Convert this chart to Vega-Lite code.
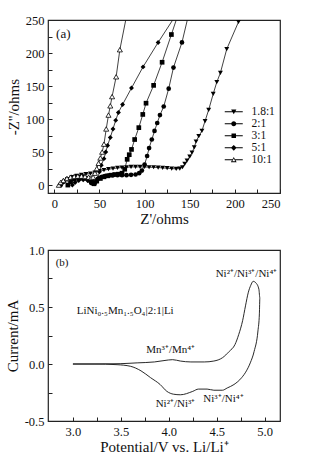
{
  "$schema": "https://vega.github.io/schema/vega-lite/v6.json",
  "background": "white",
  "padding": {"left": 4, "top": 13, "right": 24, "bottom": 4},
  "spacing": 15,
  "config": {
    "font": "Liberation Serif",
    "view": {"stroke": "#222", "strokeWidth": 1.2},
    "axis": {
      "domain": false, "grid": false, "tickColor": "#222", "tickSize": -4, "tickWidth": 1,
      "labelFontSize": 12.5, "labelColor": "#111", "labelPadding": 8,
      "titleFontSize": 15, "titleFontWeight": "normal", "titleColor": "#111"
    },
    "legend": {"labelFont": "Liberation Serif"}
  },
  "datasets": {
    "eis": [
      {"s":"1.8:1","x":8,"y":0},{"s":"1.8:1","x":11,"y":5},{"s":"1.8:1","x":15,"y":9},{"s":"1.8:1","x":20,"y":12},{"s":"1.8:1","x":25,"y":14},{"s":"1.8:1","x":30,"y":15.5},{"s":"1.8:1","x":35,"y":16.5},{"s":"1.8:1","x":40,"y":17.5},{"s":"1.8:1","x":45,"y":19},{"s":"1.8:1","x":50,"y":21},{"s":"1.8:1","x":55,"y":22.5},{"s":"1.8:1","x":60,"y":24},{"s":"1.8:1","x":65,"y":25},{"s":"1.8:1","x":70,"y":26},{"s":"1.8:1","x":75,"y":26.5},{"s":"1.8:1","x":80,"y":27},{"s":"1.8:1","x":85,"y":27.5},{"s":"1.8:1","x":90,"y":27.5},{"s":"1.8:1","x":95,"y":27.5},{"s":"1.8:1","x":100,"y":27.5},{"s":"1.8:1","x":105,"y":27},{"s":"1.8:1","x":110,"y":27},{"s":"1.8:1","x":115,"y":26.5},{"s":"1.8:1","x":120,"y":26},{"s":"1.8:1","x":125,"y":25.5},{"s":"1.8:1","x":130,"y":25},{"s":"1.8:1","x":135,"y":24.5},{"s":"1.8:1","x":139,"y":25},{"s":"1.8:1","x":142,"y":27},{"s":"1.8:1","x":144.5,"y":32},{"s":"1.8:1","x":147,"y":37},{"s":"1.8:1","x":150,"y":43},{"s":"1.8:1","x":152.5,"y":49},{"s":"1.8:1","x":155,"y":57},{"s":"1.8:1","x":157,"y":66},{"s":"1.8:1","x":160,"y":74},{"s":"1.8:1","x":163.5,"y":82},{"s":"1.8:1","x":167,"y":97},{"s":"1.8:1","x":171,"y":114},{"s":"1.8:1","x":176,"y":138},{"s":"1.8:1","x":180,"y":156},{"s":"1.8:1","x":184,"y":170},{"s":"1.8:1","x":191,"y":206},{"s":"1.8:1","x":204,"y":247},{"s":"1.8:1","x":206,"y":256},
      {"s":"2:1","x":7,"y":0},{"s":"2:1","x":10,"y":5},{"s":"2:1","x":14,"y":9},{"s":"2:1","x":19,"y":12},{"s":"2:1","x":24,"y":13},{"s":"2:1","x":29,"y":13},{"s":"2:1","x":34,"y":11},{"s":"2:1","x":38,"y":7},{"s":"2:1","x":41,"y":3},{"s":"2:1","x":44,"y":4},{"s":"2:1","x":48,"y":9},{"s":"2:1","x":52,"y":12},{"s":"2:1","x":56,"y":13.5},{"s":"2:1","x":60,"y":14.5},{"s":"2:1","x":65,"y":15},{"s":"2:1","x":70,"y":15},{"s":"2:1","x":75,"y":15},{"s":"2:1","x":80,"y":15},{"s":"2:1","x":85,"y":15.5},{"s":"2:1","x":90,"y":16},{"s":"2:1","x":94,"y":18},{"s":"2:1","x":97,"y":22},{"s":"2:1","x":100,"y":31},{"s":"2:1","x":102.8,"y":44},{"s":"2:1","x":105,"y":56},{"s":"2:1","x":108,"y":69},{"s":"2:1","x":111,"y":82},{"s":"2:1","x":114,"y":94},{"s":"2:1","x":117,"y":106},{"s":"2:1","x":121.2,"y":119},{"s":"2:1","x":126.7,"y":146},{"s":"2:1","x":132,"y":178},{"s":"2:1","x":141.4,"y":216},{"s":"2:1","x":148,"y":254},
      {"s":"3:1","x":15,"y":0},{"s":"3:1","x":18,"y":5},{"s":"3:1","x":22,"y":9},{"s":"3:1","x":27,"y":11},{"s":"3:1","x":32,"y":12},{"s":"3:1","x":37,"y":10},{"s":"3:1","x":41,"y":5},{"s":"3:1","x":44,"y":2},{"s":"3:1","x":47,"y":6},{"s":"3:1","x":51,"y":10},{"s":"3:1","x":55,"y":12.5},{"s":"3:1","x":59,"y":14},{"s":"3:1","x":63,"y":15},{"s":"3:1","x":67,"y":16},{"s":"3:1","x":71,"y":16.5},{"s":"3:1","x":75,"y":18},{"s":"3:1","x":78,"y":24},{"s":"3:1","x":80.7,"y":39},{"s":"3:1","x":83,"y":46},{"s":"3:1","x":85.5,"y":54},{"s":"3:1","x":89,"y":69},{"s":"3:1","x":93.6,"y":87},{"s":"3:1","x":98,"y":107},{"s":"3:1","x":101.6,"y":124},{"s":"3:1","x":110,"y":151},{"s":"3:1","x":119.4,"y":186},{"s":"3:1","x":129.7,"y":228},{"s":"3:1","x":136.5,"y":256},
      {"s":"5:1","x":20,"y":0},{"s":"5:1","x":23,"y":4},{"s":"5:1","x":27,"y":7},{"s":"5:1","x":32,"y":8},{"s":"5:1","x":37,"y":7},{"s":"5:1","x":41,"y":4},{"s":"5:1","x":45,"y":2},{"s":"5:1","x":48,"y":10},{"s":"5:1","x":50,"y":20},{"s":"5:1","x":52,"y":30},{"s":"5:1","x":55,"y":40},{"s":"5:1","x":57,"y":50},{"s":"5:1","x":59,"y":60},{"s":"5:1","x":62,"y":72},{"s":"5:1","x":65,"y":85},{"s":"5:1","x":68,"y":98},{"s":"5:1","x":71,"y":110},{"s":"5:1","x":75.6,"y":122},{"s":"5:1","x":85.5,"y":147},{"s":"5:1","x":98.3,"y":179},{"s":"5:1","x":115,"y":216},{"s":"5:1","x":133,"y":254},
      {"s":"10:1","x":5,"y":0},{"s":"10:1","x":7,"y":4},{"s":"10:1","x":10,"y":7},{"s":"10:1","x":14,"y":10},{"s":"10:1","x":18,"y":12},{"s":"10:1","x":22,"y":13},{"s":"10:1","x":26,"y":13.5},{"s":"10:1","x":30,"y":13.5},{"s":"10:1","x":34,"y":13},{"s":"10:1","x":38,"y":12},{"s":"10:1","x":41,"y":11},{"s":"10:1","x":43,"y":12},{"s":"10:1","x":45,"y":18},{"s":"10:1","x":47,"y":25},{"s":"10:1","x":49,"y":33},{"s":"10:1","x":51,"y":41},{"s":"10:1","x":53,"y":50},{"s":"10:1","x":55,"y":62},{"s":"10:1","x":57.5,"y":85},{"s":"10:1","x":60,"y":106},{"s":"10:1","x":62,"y":120},{"s":"10:1","x":64,"y":134},{"s":"10:1","x":68.5,"y":164},{"s":"10:1","x":72.6,"y":205},{"s":"10:1","x":80,"y":256}
    ],
    "cv": [
      {"v":3.0,"i":0},{"v":3.22,"i":0},{"v":3.5,"i":0.003},{"v":3.67,"i":0.01},{"v":3.85,"i":0.018},{"v":3.95,"i":0.03},{"v":4.04,"i":0.038},{"v":4.12,"i":0.026},{"v":4.23,"i":0.018},{"v":4.37,"i":0.018},{"v":4.47,"i":0.026},{"v":4.56,"i":0.055},{"v":4.63,"i":0.11},{"v":4.69,"i":0.17},{"v":4.73,"i":0.26},{"v":4.77,"i":0.38},{"v":4.8,"i":0.51},{"v":4.83,"i":0.63},{"v":4.855,"i":0.69},{"v":4.88,"i":0.725},{"v":4.91,"i":0.71},{"v":4.94,"i":0.655},{"v":4.95,"i":0.58},{"v":4.945,"i":0.44},{"v":4.93,"i":0.29},{"v":4.89,"i":0.11},{"v":4.85,"i":0.01},{"v":4.81,"i":-0.06},{"v":4.76,"i":-0.12},{"v":4.68,"i":-0.18},{"v":4.61,"i":-0.21},{"v":4.56,"i":-0.23},{"v":4.47,"i":-0.23},{"v":4.4,"i":-0.22},{"v":4.31,"i":-0.22},{"v":4.25,"i":-0.24},{"v":4.12,"i":-0.27},{"v":4.05,"i":-0.265},{"v":3.98,"i":-0.24},{"v":3.91,"i":-0.18},{"v":3.81,"i":-0.12},{"v":3.71,"i":-0.06},{"v":3.6,"i":-0.02},{"v":3.46,"i":-0.006},{"v":3.22,"i":0},{"v":3.0,"i":0}
    ]
  },
  "vconcat": [
    {
      "width": 232, "height": 173,
      "data": {"name": "eis"},
      "encoding": {
        "x": {"field": "x", "type": "quantitative", "scale": {"domain": [-7, 250], "nice": false, "zero": false},
              "axis": {"title": "Z'/ohms", "values": [0,25,50,75,100,125,150,175,200,225,250], "labelExpr": "datum.value % 50 == 0 ? datum.label : ''", "titlePadding": 2}},
        "y": {"field": "y", "type": "quantitative", "scale": {"domain": [-12, 250], "nice": false, "zero": false},
              "axis": {"title": "-Z''/ohms", "values": [0,25,50,75,100,125,150,175,200,225,250], "labelExpr": "datum.value % 50 == 0 ? datum.label : ''", "titlePadding": 4}}
      },
      "layer": [
        {"mark": {"type": "line", "color": "#111", "strokeWidth": 0.8, "clip": true},
         "encoding": {"detail": {"field": "s"}, "order": {"value": null}}},
        {"transform": [{"filter": "datum.s == '1.8:1'"}], "mark": {"type": "point", "shape": "triangle-down", "filled": true, "color": "#000", "size": 24, "opacity": 1, "clip": true}},
        {"transform": [{"filter": "datum.s == '2:1'"}], "mark": {"type": "point", "shape": "circle", "filled": true, "color": "#000", "size": 22, "opacity": 1, "clip": true}},
        {"transform": [{"filter": "datum.s == '3:1'"}], "mark": {"type": "point", "shape": "square", "filled": true, "color": "#000", "size": 22, "opacity": 1, "clip": true}},
        {"transform": [{"filter": "datum.s == '5:1'"}], "mark": {"type": "point", "shape": "diamond", "filled": true, "color": "#000", "size": 24, "opacity": 1, "clip": true}},
        {"transform": [{"filter": "datum.s == '10:1'"}], "mark": {"type": "point", "shape": "triangle-up", "filled": false, "color": "#000", "fill": "white", "strokeWidth": 0.8, "size": 26, "opacity": 1, "clip": true}},
        {"transform": [{"filter": "datum.y > 1000"}],
         "mark": {"type": "point", "filled": true, "color": "#000", "opacity": 1},
         "encoding": {
           "shape": {"field": "s", "type": "nominal",
             "scale": {"domain": ["1.8:1","2:1","3:1","5:1","10:1"],
                       "range": ["M-3.6,-0.16H3.6V0.16H-3.6ZM-1.05,-0.9L1.05,-0.9L0,1Z",
                                 "M-3.6,-0.16H3.6V0.16H-3.6ZM-1,0A1,1,0,1,1,1,0A1,1,0,1,1,-1,0Z",
                                 "M-3.6,-0.16H3.6V0.16H-3.6ZM-0.9,-0.9H0.9V0.9H-0.9Z",
                                 "M-3.6,-0.16H3.6V0.16H-3.6ZM0,-1.15L1.15,0L0,1.15L-1.15,0Z",
                                 "M-3.6,-0.16H-0.45V0.16H-3.6ZM0.45,-0.16H3.6V0.16H0.45ZM0,-1.15L1.15,0.95L-1.15,0.95ZM0,-0.5L-0.6,0.6L0.6,0.6Z"]},
             "legend": {"orient": "none", "legendX": 180, "legendY": 86, "title": null, "padding": 0,
                        "symbolSize": 25, "labelFontSize": 11.5, "labelOffset": 12, "rowPadding": -1.5, "labelColor": "#111",
                        "symbolFillColor": "#000", "symbolStrokeColor": "transparent", "symbolStrokeWidth": 0, "symbolOpacity": 1}}
         }},
        {"data": {"values": [{"x": 2, "y": 229, "t": "(a)"}]},
         "mark": {"type": "text", "align": "left", "baseline": "middle", "fontSize": 13, "color": "#111"},
         "encoding": {"text": {"field": "t"}}}
      ]
    },
    {
      "width": 232, "height": 171,
      "encoding": {
        "x": {"field": "v", "type": "quantitative", "scale": {"domain": [2.74, 5.16], "nice": false, "zero": false},
              "axis": {"title": "Potential/V vs. Li/Li⁺", "values": [3.0,3.25,3.5,3.75,4.0,4.25,4.5,4.75,5.0], "labelExpr": "abs(datum.value*2 - round(datum.value*2)) < 0.001 ? format(datum.value, '.1f') : ''", "titlePadding": 2}},
        "y": {"field": "i", "type": "quantitative", "scale": {"domain": [-0.5, 1.0], "nice": false, "zero": false},
              "axis": {"title": "Current/mA", "values": [-0.5,-0.25,0,0.25,0.5,0.75,1.0], "labelExpr": "abs(datum.value*2 - round(datum.value*2)) < 0.001 ? replace(format(datum.value, '.1f'), '−', '-') : ''", "titlePadding": 4}}
      },
      "layer": [
        {"data": {"name": "cv"},
         "mark": {"type": "line", "color": "#111", "strokeWidth": 0.9, "interpolate": "monotone"},
         "encoding": {"order": {"value": null}}},
        {"data": {"values": [
           {"v": 4.81, "i": 0.79, "t": "Ni²⁺/Ni³⁺/Ni⁴⁺"},
           {"v": 4.02, "i": 0.12, "t": "Mn³⁺/Mn⁴⁺"},
           {"v": 4.07, "i": -0.35, "t": "Ni²⁺/Ni³⁺"},
           {"v": 4.57, "i": -0.31, "t": "Ni³⁺/Ni⁴⁺"}
         ]},
         "mark": {"type": "text", "align": "center", "baseline": "middle", "fontSize": 11, "color": "#111"},
         "encoding": {"text": {"field": "t"}}},
        {"data": {"values": [
           {"v": 3.04, "i": 0.465, "t": "LiNi₀.₅Mn₁.₅O₄|2:1|Li"},
           {"v": 2.82, "i": 0.89, "t": "(b)"}
         ]},
         "mark": {"type": "text", "align": "left", "baseline": "middle", "fontSize": 11, "color": "#111"},
         "encoding": {"text": {"field": "t"}}}
      ]
    }
  ]
}
